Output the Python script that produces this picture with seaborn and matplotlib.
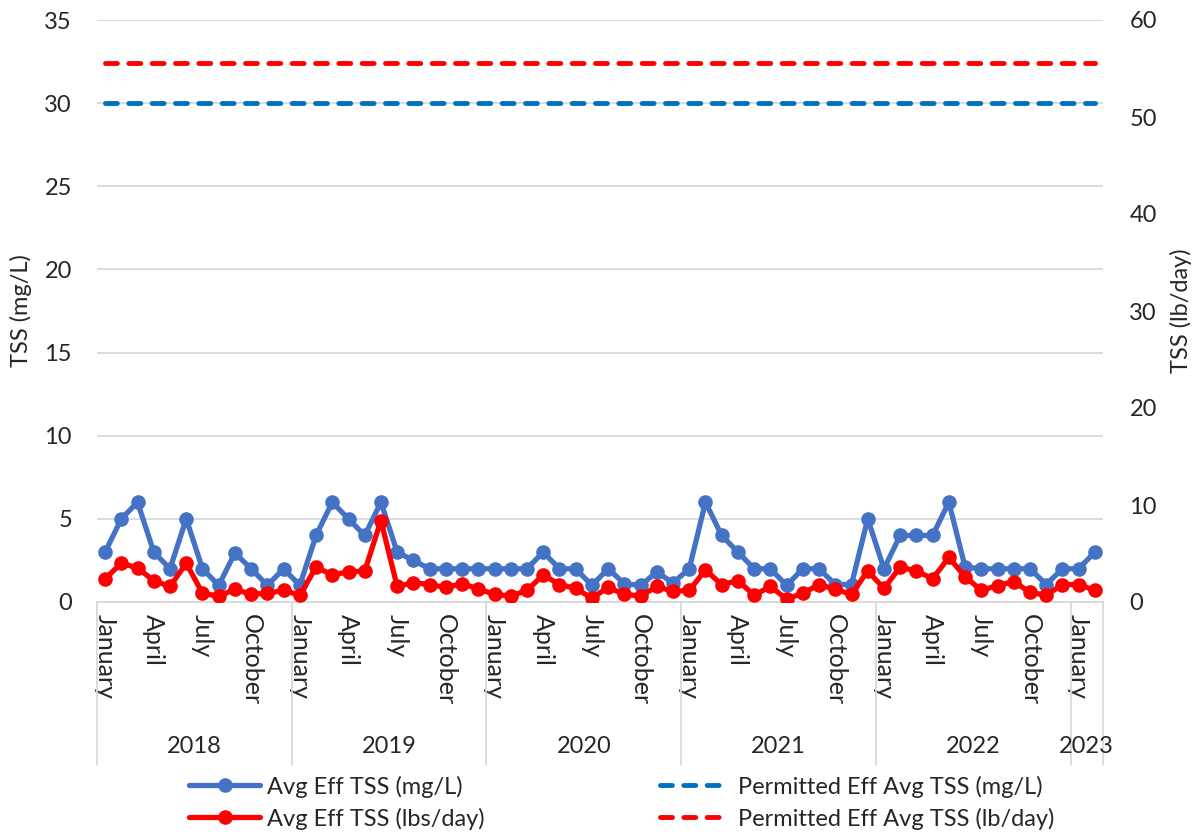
import numpy as np
import pandas as pd
import matplotlib
matplotlib.use("Agg")
import matplotlib.pyplot as plt
import matplotlib.transforms as mtransforms
import seaborn as sns

# 월별 유출수 TSS 데이터 (2018.01 ~ 2023.02)
years = ["2018", "2019", "2020", "2021", "2022", "2023"]
months_per_year = [12, 12, 12, 12, 12, 2]
month_names = ["January", "February", "March", "April", "May", "June", "July",
               "August", "September", "October", "November", "December"]

tss_mgl = [3, 5, 6, 3, 2, 5, 2, 1, 2.95, 2, 1, 2,
           1, 4, 6, 5, 4, 6, 3, 2.5, 2, 2, 2, 2,
           2, 2, 2, 3, 2, 2, 1, 2, 1.1, 1, 1.8, 1.15,
           2, 6, 4, 3, 2, 2, 1, 2, 2, 1.05, 1.05, 5,
           2, 4, 4, 4, 6, 2.1, 2, 2, 2, 2, 1.05, 2,
           2, 3]

tss_lbd = [2.4, 4.0, 3.5, 2.2, 1.6, 4.0, 0.9, 0.6, 1.3, 0.8, 0.9, 1.2,
           0.7, 3.6, 2.8, 3.1, 3.2, 8.4, 1.6, 2.0, 1.8, 1.5, 1.9, 1.35,
           0.8, 0.6, 1.2, 2.8, 1.8, 1.4, 0.4, 1.5, 0.8, 0.6, 1.6, 1.1,
           1.2, 3.3, 1.8, 2.2, 0.7, 1.6, 0.3, 0.9, 1.8, 1.3, 0.8, 3.2,
           1.4, 3.6, 3.2, 2.4, 4.6, 2.6, 1.2, 1.7, 2.1, 1.0, 0.7, 1.8,
           1.8, 1.2]

permit_mgl = 30
permit_lbd = 55.6

# 데이터 프레임 구성
rows = []
for y, n in zip(years, months_per_year):
    for m in range(n):
        rows.append((y, month_names[m]))
df = pd.DataFrame(rows, columns=["year", "month"])
df["idx"] = np.arange(len(df))
df["tss_mgl"] = tss_mgl
df["tss_lbd"] = tss_lbd
df["permit_mgl"] = permit_mgl
df["permit_lbd"] = permit_lbd

sns.set_style("white")
plt.rcParams["font.family"] = ["Lato", "DejaVu Sans"]

BLUE = "#4472C4"
PBLUE = "#0070C0"
RED = "#FF0000"
GRID = "#D9D9D9"
FS = 17
DASH = (0, (2.45, 2.35))

fig = plt.figure(figsize=(12, 8.36), dpi=100)
ax = fig.add_axes([97 / 1200, 1 - 602 / 836, 1006 / 1200, 582 / 836])
ax2 = ax.twinx()

sns.lineplot(data=df, x="idx", y="tss_mgl", ax=ax, color=BLUE, linewidth=3.8,
             marker="o", markersize=10.5, markeredgewidth=0,
             label="Avg Eff TSS (mg/L)", legend=False)
sns.lineplot(data=df, x="idx", y="permit_mgl", ax=ax, color=PBLUE, linewidth=3.5,
             dashes=False, label="Permitted Eff Avg TSS (mg/L)", legend=False)
ax.lines[-1].set_linestyle(DASH)
ax.lines[-1].set_dash_capstyle("round")

sns.lineplot(data=df, x="idx", y="tss_lbd", ax=ax2, color=RED, linewidth=3.8,
             marker="o", markersize=10.5, markeredgewidth=0,
             label="Avg Eff TSS (lbs/day)", legend=False)
sns.lineplot(data=df, x="idx", y="permit_lbd", ax=ax2, color=RED, linewidth=3.5,
             dashes=False, label="Permitted Eff Avg TSS (lb/day)", legend=False)
ax2.lines[-1].set_linestyle(DASH)
ax2.lines[-1].set_dash_capstyle("round")

n = len(df)
ax.set_xlim(-0.5, n - 0.5)
ax.set_ylim(0, 35)
ax.set_yticks(np.arange(0, 36, 5))
ax2.set_ylim(0, 60)
ax2.set_yticks(np.arange(0, 61, 10))

ax.grid(axis="y", color=GRID, linewidth=1.3)
ax.set_axisbelow(True)
for a in (ax, ax2):
    for s in a.spines.values():
        s.set_visible(False)
ax.spines["bottom"].set_visible(True)
ax.spines["bottom"].set_color(GRID)
ax.spines["bottom"].set_linewidth(1.3)

ax.tick_params(axis="y", labelsize=FS, length=0, pad=18)
ax2.tick_params(axis="y", labelsize=FS, length=0, pad=19)
ax.set_ylabel("TSS (mg/L)", fontsize=FS, labelpad=9)
ax2.set_ylabel("TSS (lb/day)", fontsize=FS, labelpad=9)
ax.set_xlabel("")
ax2.set_xlabel("")

# 분기별 월 라벨
qmask = df["month"].isin(["January", "April", "July", "October"])
ax.set_xticks(df.loc[qmask, "idx"])
ax.set_xticklabels(df.loc[qmask, "month"], rotation=-90, fontsize=18,
                   va="top", ha="center")
ax.tick_params(axis="x", length=0, pad=9)

# 연도 라벨 및 구분선
trans = mtransforms.blended_transform_factory(ax.transData, ax.transAxes)
start = 0
bounds = [-0.5]
for y, cnt in zip(years, months_per_year):
    ax.text(start + (cnt - 1) / 2, -0.248, y, transform=trans, fontsize=FS,
            ha="center", va="center")
    start += cnt
    bounds.append(start - 0.5)
for b in bounds:
    ax.plot([b, b], [0, -0.28], transform=trans, color=GRID, linewidth=1.3,
            clip_on=False)

handles = [ax.lines[0], ax2.lines[0], ax.lines[1], ax2.lines[1]]
labels = [h.get_label() for h in handles]
fig.legend(handles, labels, loc="center", bbox_to_anchor=(0.518, 0.04), ncol=2,
           frameon=False, fontsize=FS, handlelength=3.0, handletextpad=0.3,
           columnspacing=7.4, labelspacing=0.42, borderaxespad=0)

fig.savefig("out.png", dpi=100)
